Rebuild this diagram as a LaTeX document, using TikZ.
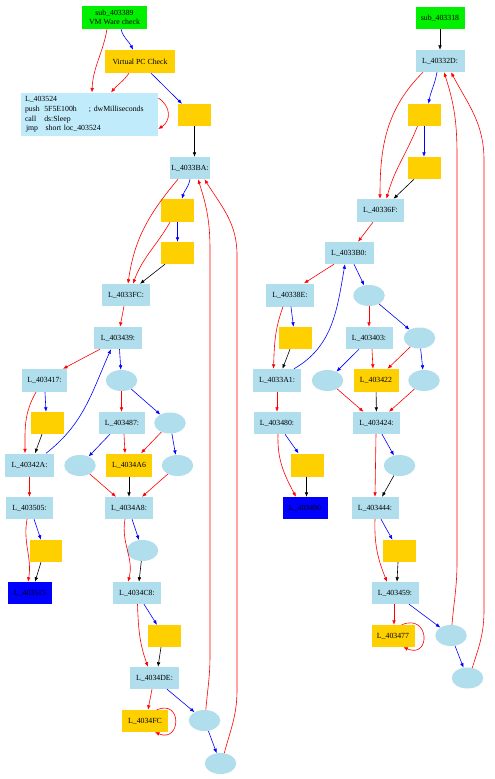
\documentclass[tikz,border=0pt]{standalone}
\usepackage{fontspec}
\setmainfont{Liberation Serif}
\usetikzlibrary{arrows.meta,shapes.geometric}
\definecolor{lb}{HTML}{B0DEEC}
\definecolor{llb}{HTML}{C0EBFA}
\definecolor{gd}{HTML}{FFD000}
\definecolor{gr}{HTML}{00F000}
\definecolor{bl}{HTML}{0000FF}
\tikzset{
  every node/.style={font=\fontsize{7.8}{9}\selectfont},
  lbox/.style={rectangle, fill=lb, inner sep=0pt, minimum height=22pt, minimum width=48pt},
  ybox/.style={rectangle, fill=gd, inner sep=0pt, minimum height=22pt, minimum width=33pt},
  gbox/.style={rectangle, fill=gr, inner sep=0pt, minimum height=22pt, minimum width=49pt},
  bbox/.style={rectangle, fill=bl, inner sep=0pt, minimum height=22pt, minimum width=45pt},
  ell/.style={ellipse, fill=lb, inner sep=0pt, minimum width=31.5pt, minimum height=21pt},
  edge/.style={line width=0.6pt, -{Latex[length=4.5pt,width=3.6pt]}},
  re/.style={edge, draw=red},
  be/.style={edge, draw=blue},
  ke/.style={edge, draw=black}
}
\begin{document}
\begin{tikzpicture}[x=1pt,y=1pt]
\useasboundingbox (0,0) rectangle (495,-779);
\fill[white] (0,0) rectangle (495,-779);
% ---------- left graph nodes ----------
\node[gbox, minimum width=65pt, minimum height=23pt, align=center] (s389) at (114.5,-17.5) {sub\_403389\\VM Ware check};
\node[ybox, minimum width=70pt, minimum height=23pt] (vpc) at (140,-61.5) {Virtual PC Check};
\node[rectangle, fill=llb, minimum width=137pt, minimum height=43pt, inner sep=4pt, text width=129pt, align=left, font=\fontsize{7.8}{9.6}\selectfont] (b524) at (89.5,-114.5)
 {L\_403524\\
  \makebox[19.3pt][l]{push}\makebox[44.7pt][l]{5F5E100h}; dwMilliseconds\\
  \makebox[19.3pt][l]{call}ds:Sleep\\
  \hspace{1pt}\makebox[19.7pt][l]{jmp}short loc\_403524};
\node[ybox] (y1) at (194.5,-115) {};
\node[lbox, minimum width=40pt] (n3BA) at (190,-168) {L\_4033BA:};
\node[ybox, minimum height=23pt] (y2) at (177.5,-210.5) {};
\node[ybox] (y3) at (177.5,-253) {};
\node[lbox] (n3FC) at (126,-295) {L\_4033FC:};
\node[lbox] (n439) at (118,-338) {L\_403439:};
\node[lbox, minimum width=45pt, minimum height=23pt] (n417) at (44.5,-380.5) {L\_403417:};
\node[ell] (e1) at (121.5,-380.5) {};
\node[ybox] (y4) at (47.5,-423) {};
\node[lbox, minimum width=49pt, minimum height=23pt] (n42A) at (29.5,-465) {L\_40342A:};
\node[lbox, minimum width=46pt] (n487) at (122,-423) {L\_403487:};
\node[ell] (e2) at (170,-423) {};
\node[ell] (e3) at (80,-465.5) {};
\node[ybox, minimum width=46pt, minimum height=23pt] (n4A6) at (129,-465) {L\_4034A6};
\node[ell] (e4) at (177.5,-465.5) {};
\node[lbox, minimum width=47pt] (n505) at (29.5,-508) {L\_403505:};
\node[lbox] (n4A8) at (129,-508) {L\_4034A8:};
\node[ell] (e5) at (142.5,-550.5) {};
\node[ybox, minimum width=32pt] (y5) at (46,-551) {};
\node[bbox, minimum width=44pt] (n515) at (30,-593) {L\_403515};
\node[lbox] (n4C8) at (137,-593) {L\_4034C8:};
\node[ybox] (y6) at (164.5,-636) {};
\node[lbox, minimum width=49pt] (n4DE) at (154.5,-678) {L\_4034DE:};
\node[ybox, minimum width=46pt] (n4FC) at (145,-721) {L\_4034FC};
\node[ell] (e6) at (204.5,-720.5) {};
\node[ell] (e7) at (220.5,-763.5) {};
% ---------- right graph nodes ----------
\node[gbox] (s318) at (440,-18) {sub\_403318};
\node[lbox, minimum width=49pt] (n32D) at (440,-61) {L\_40332D:};
\node[ybox] (y7) at (424,-115) {};
\node[ybox] (y8) at (424,-168) {};
\node[lbox, minimum width=47pt, minimum height=23pt] (n36F) at (380.5,-210.5) {L\_40336F:};
\node[lbox, minimum width=49pt] (n3B0) at (349,-253) {L\_4033B0:};
\node[lbox, minimum height=23pt] (n38E) at (290,-295) {L\_40338E:};
\node[ell] (e8) at (369,-295.5) {};
\node[ybox] (y9) at (295,-338) {};
\node[lbox, minimum width=47pt] (n403) at (369,-338) {L\_403403:};
\node[ell] (e9) at (419.5,-338) {};
\node[lbox, minimum height=23pt] (n3A1) at (277,-380.5) {L\_4033A1:};
\node[ell] (e10) at (327.5,-380.5) {};
\node[ybox, minimum width=45pt, minimum height=23pt] (n422) at (376,-380.5) {L\_403422};
\node[ell] (e11) at (424,-380.5) {};
\node[lbox, minimum width=47pt] (n480) at (277,-423) {L\_403480:};
\node[lbox, minimum width=47pt] (n424) at (376.5,-423) {L\_403424:};
\node[ybox, minimum height=23pt] (y10) at (307,-465) {};
\node[ell] (e12) at (399.5,-465.5) {};
\node[bbox] (n490) at (305,-508) {L\_403490};
\node[lbox, minimum width=47pt] (n444) at (375,-508) {L\_403444:};
\node[ybox] (y11) at (399,-551) {};
\node[lbox, minimum width=47pt] (n459) at (395,-593) {L\_403459:};
\node[ybox, minimum width=43pt] (n477) at (393,-636) {L\_403477};
\node[ell] (e13) at (451,-635.5) {};
\node[ell] (e14) at (467.5,-678) {};
% ---------- left graph edges ----------
\draw[re] ([xshift=-7.5]s389.south) to[out=-100,in=88] ([xshift=2.5]b524.north);
\draw[be] ([xshift=6.5]s389.south) to[out=-75,in=115] ([xshift=-7]vpc.north);
\draw[re] ([xshift=-11]vpc.south) to[out=-125,in=50] ([xshift=21.5]b524.north);
\draw[be] ([xshift=11]vpc.south) -- ([xshift=-12.5]y1.north);
\draw[re] ([yshift=16.5]b524.east) .. controls +(13,-8) and +(13,8) .. ([yshift=-14.5]b524.east);
\draw[ke] (y1.south) -- ([xshift=4.5]n3BA.north);
\draw[be] (n3BA.south) to[out=-100,in=75] ([xshift=4.5]y2.north);
\draw[re] ([xshift=-12]n3BA.south) to[out=-130,in=82] ([xshift=2]n3FC.north);
\draw[re] ([xshift=-7.5]y2.south) to[out=-120,in=70] ([xshift=7]n3FC.north);
\draw[be] (y2) -- (y3);
\draw[ke] ([xshift=-12.5]y3.south) -- ([xshift=14]n3FC.north);
\draw[re] ([xshift=-2]n3FC.south) -- ([xshift=2]n439.north);
\draw[re] ([xshift=-18]n439.south) -- ([xshift=18.5]n417.north);
\draw[be] ([xshift=1.5]n439.south) -- (e1);
\draw[be] ([xshift=16.5]n42A.north) to[out=38,in=-114] ([xshift=-7]n439.south);
\draw[re] ([xshift=-8.5]n417.south) to[out=-120,in=90] ([xshift=-4.5]n42A.north);
\draw[be] ([xshift=0.5]n417.south) -- ([xshift=-1.5]y4.north);
\draw[ke] ([xshift=-5.5]y4.south) -- ([xshift=5.5]n42A.north);
\draw[re] (e1) -- ([xshift=-0.5]n487.north);
\draw[be] (e1) -- (e2);
\draw[be] ([xshift=-12]n487.south) -- (e3);
\draw[re] ([xshift=2]n487.south) -- ([xshift=-4]n4A6.north);
\draw[re] (e2) -- ([xshift=12]n4A6.north);
\draw[be] (e2) -- (e4);
\draw[re] (e3) -- ([xshift=-13]n4A8.north);
\draw[ke] (n4A6) -- (n4A8);
\draw[re] (e4) -- ([xshift=13]n4A8.north);
\draw[re] (n42A) -- (n505);
\draw[re] ([xshift=-2.5]n505.south) to[out=-100,in=80] ([xshift=-2]n515.north);
\draw[be] ([xshift=4.5]n505.south) -- ([xshift=-5]y5.north);
\draw[ke] ([xshift=-5]y5.south) -- ([xshift=5]n515.north);
\draw[be] ([xshift=3]n4A8.south) -- (e5);
\draw[re] ([xshift=-4]n4A8.south) to[out=-100,in=75] ([xshift=-9]n4C8.north);
\draw[ke] (e5) -- ([xshift=2]n4C8.north);
\draw[be] ([xshift=7]n4C8.south) -- ([xshift=-7.5]y6.north);
\draw[re] ([xshift=0.5]n4C8.south) to[out=-88,in=110] ([xshift=-6.5]n4DE.north);
\draw[ke] ([xshift=-3.5]y6.south) -- ([xshift=3.5]n4DE.north);
\draw[re] ([xshift=-2.5]n4DE.south) -- ([xshift=3]n4FC.north);
\draw[be] ([xshift=12.5]n4DE.south) -- (e6);
\draw[re] ([xshift=11.7]n4FC.north) .. controls +(26,11) and +(26,-11) .. ([xshift=10]n4FC.south);
\draw[be] (e6) -- (e7);
\draw[re] (e6.83) to[out=85,in=-90] (210,-655) -- (210,-250) to[out=90,in=-72] ([xshift=8]n3BA.south);
\draw[re] (e7.70) to[out=75,in=-90] (237,-690) -- (237,-255) to[out=90,in=-58] ([xshift=14.5]n3BA.south);
% ---------- right graph edges ----------
\draw[ke] (s318) -- (n32D);
\draw[be] ([xshift=-3]n32D.south) to[out=-100,in=80] ([xshift=4.5]y7.north);
\draw[re] ([xshift=-17]n32D.south) to[out=-135,in=90] ([xshift=-0.5]n36F.north);
\draw[re] ([xshift=-6.5]y7.south) to[out=-112,in=75] ([xshift=6]n36F.north);
\draw[be] (y7) -- (y8);
\draw[ke] ([xshift=-10]y8.south) -- ([xshift=13]n36F.north);
\draw[re] ([xshift=-7.5]n36F.south) -- ([xshift=9]n3B0.north);
\draw[re] ([xshift=-15]n3B0.south) -- ([xshift=14]n38E.north);
\draw[be] ([xshift=5]n3B0.south) -- (e8);
\draw[be] ([xshift=17]n3A1.north) to[out=30,in=-100] ([xshift=-4]n3B0.south);
\draw[re] ([xshift=-7]n38E.south) to[out=-110,in=88] ([xshift=-3.5]n3A1.north);
\draw[be] ([xshift=1]n38E.south) -- ([xshift=-1.5]y9.north);
\draw[ke] ([xshift=-5]y9.south) -- ([xshift=5.5]n3A1.north);
\draw[re] (e8) -- (n403);
\draw[be] (e8) -- (e9);
\draw[be] ([xshift=-10]n403.south) -- (e10);
\draw[re] ([xshift=3]n403.south) -- ([xshift=-3]n422.north);
\draw[re] (e9) -- ([xshift=11.5]n422.north);
\draw[be] (e9) -- (e11);
\draw[re] (e10) -- ([xshift=-13]n424.north);
\draw[ke] (n422) -- (n424);
\draw[re] (e11) -- ([xshift=12.5]n424.north);
\draw[re] (n3A1) -- (n480);
\draw[be] ([xshift=8]n480.south) -- ([xshift=-8.5]y10.north);
\draw[re] ([xshift=1]n480.south) to[out=-92,in=118] ([xshift=-9]n490.north);
\draw[ke] ([xshift=-0.5]y10.south) -- ([xshift=1.5]n490.north);
\draw[be] ([xshift=5.5]n424.south) -- (e12);
\draw[re] ([xshift=-0.5]n424.south) -- (n444.north);
\draw[ke] (e12) -- ([xshift=7]n444.north);
\draw[be] ([xshift=6]n444.south) -- ([xshift=-6.5]y11.north);
\draw[re] (n444.south) to[out=-92,in=112] ([xshift=-8]n459.north);
\draw[ke] ([xshift=-1]y11.south) -- ([xshift=2]n459.north);
\draw[re] ([xshift=-1]n459.south) -- ([xshift=1]n477.north);
\draw[be] ([xshift=14]n459.south) -- (e13);
\draw[re] ([xshift=8.7]n477.north) .. controls +(28,12) and +(28,-12) .. ([xshift=10.3]n477.south);
\draw[be] (e13) -- (e14);
\draw[re] (e13.85) to[out=85,in=-90] (457,-562) -- (457,-155) to[out=90,in=-72] ([xshift=4]n32D.south);
\draw[re] (e14.65) to[out=72,in=-90] (484,-610) -- (484,-160) to[out=90,in=-62] ([xshift=11]n32D.south);
\end{tikzpicture}
\end{document}
